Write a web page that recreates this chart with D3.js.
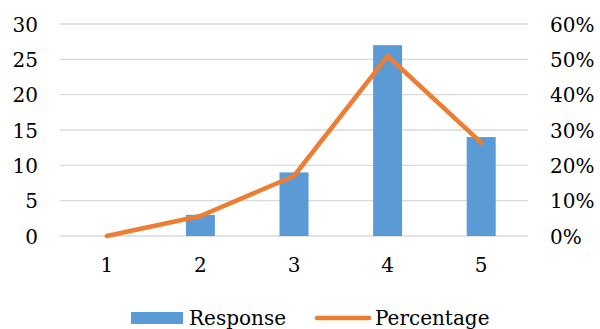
<!DOCTYPE html>
<html><head><meta charset="utf-8">
<script src="https://cdn.jsdelivr.net/npm/d3@7"></script>
<style>body{margin:0;background:#fff}svg{display:block}text{font-family:"DejaVu Serif",serif;fill:#000}</style>
</head><body><svg id="c" width="600" height="329"></svg>
<script>
const categories = ["1","2","3","4","5"];
const response = [0,3,9,27,14];
const percentage = [0,0.0566,0.1698,0.5094,0.2642];
const leftTicks = [0,5,10,15,20,25,30];
const rightTicks = [0,0.1,0.2,0.3,0.4,0.5,0.6];

const svg = d3.select("#c");
const L=60,R=528,T=24,B=236;
const x = d3.scaleBand().domain(categories).range([L,R]);
const y = d3.scaleLinear().domain([0,30]).range([B,T]);
const y2 = d3.scaleLinear().domain([0,0.6]).range([B,T]);

svg.append("g").selectAll("line").data(leftTicks).join("line")
  .attr("x1",L).attr("x2",R).attr("y1",d=>y(d)).attr("y2",d=>y(d))
  .attr("stroke","#d9d9d9").attr("stroke-width",1.3);

const bw = 29;
svg.append("g").selectAll("rect").data(response).join("rect")
  .attr("x",(d,i)=>x(categories[i])+x.bandwidth()/2-bw/2)
  .attr("width",bw)
  .attr("y",d=>y(d)).attr("height",d=>B-y(d))
  .attr("fill","#5B9BD5");

const line = d3.line().x((d,i)=>x(categories[i])+x.bandwidth()/2).y(d=>y2(d));
svg.append("path").datum(percentage).attr("d",line)
  .attr("fill","none").attr("stroke","#ED7D31").attr("stroke-width",4.5)
  .attr("stroke-linecap","round").attr("stroke-linejoin","round");

const yl = d3.axisLeft(y).tickValues(leftTicks).tickSize(0).tickPadding(0);
const gl = svg.append("g").attr("transform","translate(38,0)").call(yl);
gl.select(".domain").remove();
gl.selectAll("text").attr("font-size",20).attr("font-family","DejaVu Serif").attr("fill","#000").attr("dy","0.35em");

const yr = d3.axisRight(y2).tickValues(rightTicks).tickFormat(d3.format(".0%")).tickSize(0).tickPadding(0);
const gr = svg.append("g").attr("transform","translate(550,0)").call(yr);
gr.select(".domain").remove();
gr.selectAll("text").attr("font-size",20).attr("font-family","DejaVu Serif").attr("fill","#000").attr("dy","0.35em");

const xa = d3.axisBottom(x).tickSize(0).tickPadding(0);
const gx = svg.append("g").attr("transform","translate(0,258)").call(xa);
gx.select(".domain").remove();
gx.selectAll("text").attr("font-size",20).attr("font-family","DejaVu Serif").attr("fill","#000").attr("dy","0.71em");

const lg = svg.append("g");
lg.append("rect").attr("x",131).attr("y",312).attr("width",52).attr("height",12).attr("fill","#5B9BD5");
lg.append("text").attr("x",189).attr("y",325).attr("font-size",20).text("Response");
lg.append("line").attr("x1",317).attr("x2",369).attr("y1",318).attr("y2",318)
  .attr("stroke","#ED7D31").attr("stroke-width",4.5).attr("stroke-linecap","round");
lg.append("text").attr("x",375).attr("y",325).attr("font-size",20).text("Percentage");
</script></body></html>
